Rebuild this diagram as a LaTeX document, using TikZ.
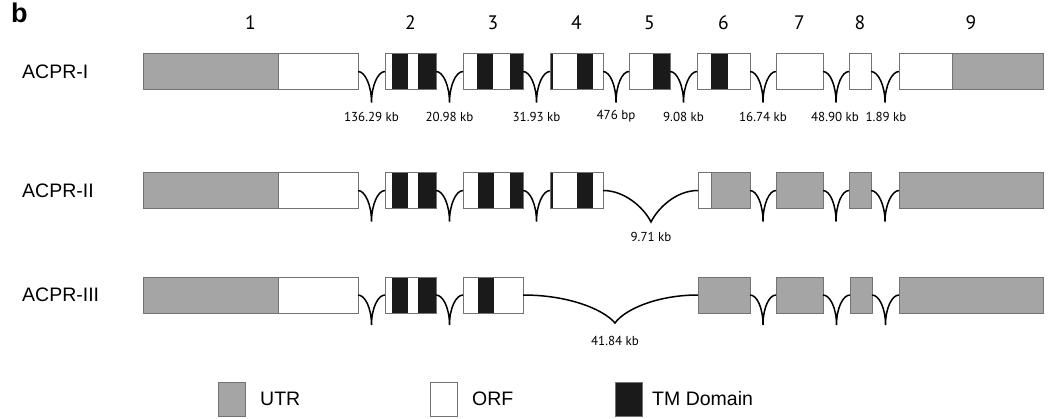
\documentclass[tikz,border=0pt]{standalone}
\usepackage{fontspec}
\setmainfont{Liberation Sans}
\newfontfamily\numfont{PT Sans}
\usetikzlibrary{calc}

\definecolor{utrgray}{RGB}{165,165,165}
\definecolor{boxline}{RGB}{115,115,115}
\definecolor{tmblack}{RGB}{26,26,26}

% exon outline from x1 to x2, centred on row y
\newcommand\exonbox[4]{%
  \node[exon, minimum width={#3pt-#2pt}] (#1) at (#2,#4) {};}
% coloured part of an exon (style, x1, x2, row y)
\newcommand\exfill[4]{%
  \fill[#1] (#2,#4-18) rectangle (#3,#4+18);}
% short intron: hook between two exons with a cusp below
\newcommand\intron[4]{%
  \coordinate (#3) at ($(#1.east)!.5!(#2.west)+(0,#4)$);
  \draw[intronline] (#1.east) .. controls +(7,0) and +(0,-17) .. (#3)
    .. controls +(0,-17) and +(-7,0) .. (#2.west);}

\begin{document}
\begin{tikzpicture}[x=1pt,y=-1pt,
  exon/.style={draw=boxline, line width=0.9pt, minimum height=36pt,
    inner sep=0pt, outer sep=0pt, anchor=west},
  utr/.style={fill=utrgray},
  tm/.style={fill=tmblack},
  intronline/.style={line width=1.5pt, black},
  kb/.style={font=\numfont\fontsize{13}{15}\selectfont, inner sep=0pt},
  exnum/.style={font=\numfont\fontsize{19.5}{21}\selectfont, inner sep=0pt},
  rowlabel/.style={font=\fontsize{19.5}{21}\selectfont, anchor=west, inner sep=0pt},
  legtext/.style={font=\fontsize{19.5}{21}\selectfont, anchor=west, inner sep=0pt},
  legbox/.style={draw=boxline, line width=0.9pt, minimum width=27pt,
    minimum height=34pt, inner sep=0pt}]
\useasboundingbox (0,0) rectangle (1056,419);

\node[font=\bfseries\fontsize{27}{28}\selectfont, anchor=north west, inner sep=0pt] (panel) at (11,3) {b};

% ---------------- ACPR-I ----------------
\def\ry{71.5}
\node[rowlabel] (lab1) at (22,\ry) {ACPR-I};
\exfill{utr}{143}{278}{\ry}
\exfill{tm}{392}{408}{\ry} \exfill{tm}{418}{436}{\ry}
\exfill{tm}{477}{493}{\ry} \exfill{tm}{510}{523}{\ry}
\exfill{tm}{550}{553}{\ry} \exfill{tm}{577}{593}{\ry}
\exfill{tm}{653}{670}{\ry}
\exfill{tm}{711}{728}{\ry}
\exfill{utr}{952}{1043}{\ry}
\exonbox{a1}{143}{358}{\ry}
\exonbox{a2}{385}{436}{\ry}
\exonbox{a3}{463}{523}{\ry}
\exonbox{a4}{550}{603}{\ry}
\exonbox{a5}{629}{670}{\ry}
\exonbox{a6}{697}{750}{\ry}
\exonbox{a7}{776}{823}{\ry}
\exonbox{a8}{849}{871}{\ry}
\exonbox{a9}{899}{1043}{\ry}
\draw[boxline, line width=0.9pt] (278,\ry-18) -- (278,\ry+18);
\draw[boxline, line width=0.9pt] (952,\ry-18) -- (952,\ry+18);
\intron{a1}{a2}{ca1}{31}
\intron{a2}{a3}{ca2}{31}
\intron{a3}{a4}{ca3}{31}
\intron{a4}{a5}{ca4}{31}
\intron{a5}{a6}{ca5}{31}
\intron{a6}{a7}{ca6}{31}
\intron{a7}{a8}{ca7}{31}
\intron{a8}{a9}{ca8}{31}
\node[kb] at ($(ca1)+(0,14)$) {136.29 kb};
\node[kb] at ($(ca2)+(0,14)$) {20.98 kb};
\node[kb] at ($(ca3)+(0,14)$) {31.93 kb};
\node[kb] at ($(ca4)+(0,14)$) {476 bp};
\node[kb] at ($(ca5)+(0,14)$) {9.08 kb};
\node[kb] at ($(ca6)+(0,14)$) {16.74 kb};
\node[kb] at ($(ca7)+(-1,14)$) {48.90 kb};
\node[kb] at ($(ca8)+(1,14)$) {1.89 kb};
% exon numbers
\foreach \e/\n in {a1/1,a2/2,a3/3,a4/4,a5/5,a6/6,a7/7,a8/8,a9/9}
  \node[exnum] at ($(\e.center)+(0,-49)$) {\n};

% ---------------- ACPR-II ----------------
\def\ry{190.5}
\node[rowlabel] (lab2) at (22,\ry) {ACPR-II};
\exfill{utr}{143}{278}{\ry}
\exfill{tm}{392}{408}{\ry} \exfill{tm}{418}{436}{\ry}
\exfill{tm}{478}{494}{\ry} \exfill{tm}{510}{523}{\ry}
\exfill{tm}{550}{553}{\ry} \exfill{tm}{577}{593}{\ry}
\exfill{utr}{711}{750}{\ry}
\exfill{utr}{776}{823}{\ry}
\exfill{utr}{849}{871}{\ry}
\exfill{utr}{899}{1043}{\ry}
\exonbox{b1}{143}{358}{\ry}
\exonbox{b2}{385}{436}{\ry}
\exonbox{b3}{463}{523}{\ry}
\exonbox{b4}{550}{603}{\ry}
\exonbox{b5}{698}{750}{\ry}
\exonbox{b6}{776}{823}{\ry}
\exonbox{b7}{849}{871}{\ry}
\exonbox{b8}{899}{1043}{\ry}
\draw[boxline, line width=0.9pt] (278,\ry-18) -- (278,\ry+18);
\draw[boxline, line width=0.9pt] (711,\ry-18) -- (711,\ry+18);
\intron{b1}{b2}{cb1}{31}
\intron{b2}{b3}{cb2}{31}
\intron{b3}{b4}{cb3}{31}
\coordinate (cb4) at (651,222);
\draw[intronline] (b4.east) .. controls +(22,0) and +(-7,-14) .. (cb4)
  .. controls +(7,-14) and +(-22,0) .. (b5.west);
\intron{b5}{b6}{cb5}{31}
\intron{b6}{b7}{cb6}{31}
\intron{b7}{b8}{cb7}{31}
\node[kb] at ($(cb4)+(0,15)$) {9.71 kb};

% ---------------- ACPR-III ----------------
\def\ry{295}
\node[rowlabel] (lab3) at (22,\ry) {ACPR-III};
\exfill{utr}{143}{278}{\ry}
\exfill{tm}{392}{408}{\ry} \exfill{tm}{418}{436}{\ry}
\exfill{tm}{478}{494}{\ry}
\exfill{utr}{698}{750}{\ry}
\exfill{utr}{776}{823}{\ry}
\exfill{utr}{850}{872}{\ry}
\exfill{utr}{899}{1043}{\ry}
\exonbox{c1}{143}{358}{\ry}
\exonbox{c2}{385}{436}{\ry}
\exonbox{c3}{463}{523}{\ry}
\exonbox{c4}{698}{750}{\ry}
\exonbox{c5}{776}{823}{\ry}
\exonbox{c6}{850}{872}{\ry}
\exonbox{c7}{899}{1043}{\ry}
\draw[boxline, line width=0.9pt] (278,\ry-18) -- (278,\ry+18);
\intron{c1}{c2}{cc1}{30}
\intron{c2}{c3}{cc2}{30}
\coordinate (cc3) at (615,323);
\draw[intronline] (c3.east) .. controls +(45,0) and +(-12,-14) .. (cc3)
  .. controls +(10,-14) and +(-40,0) .. (c4.west);
\intron{c4}{c5}{cc4}{30}
\intron{c5}{c6}{cc5}{30}
\intron{c6}{c7}{cc6}{30}
\node[kb] at ($(cc3)+(0,18)$) {41.84 kb};

% ---------------- legend ----------------
\node[legbox, fill=utrgray] (kutr) at (232,399) {};
\node[legtext] (tutr) at (260,399) {UTR};
\node[legbox, fill=white] (korf) at (444,399) {};
\node[legtext] (torf) at (472,399) {ORF};
\node[legbox, fill=tmblack] (ktm) at (628.5,399) {};
\node[legtext] (ttm) at (652,399) {TM Domain};
\end{tikzpicture}
\end{document}
